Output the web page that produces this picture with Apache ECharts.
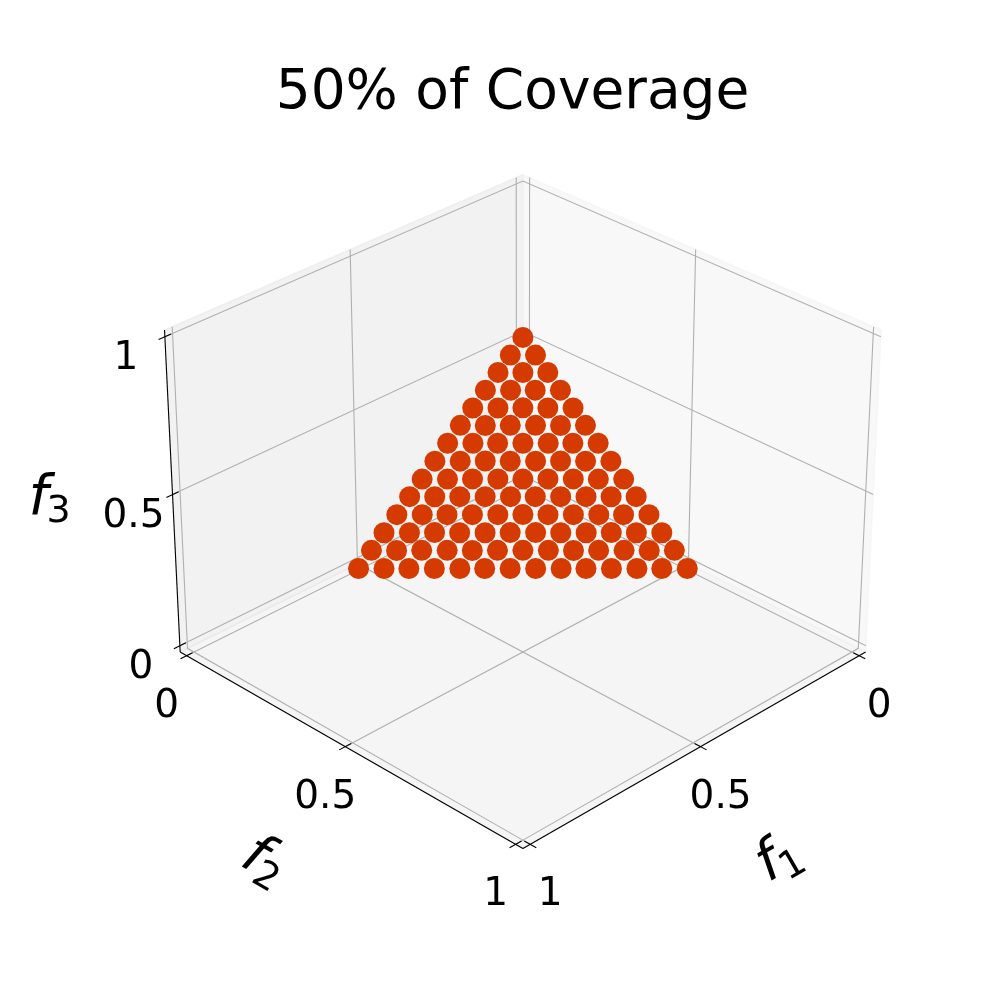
<!DOCTYPE html>
<html><head><meta charset="utf-8">
<script src="https://cdn.jsdelivr.net/npm/echarts@6/dist/echarts.min.js"></script>
<style>html,body{margin:0;padding:0;background:#fff}#chart{width:1000px;height:1000px}</style>
</head><body><div id="chart"></div>
<script>
// ---------------- data ----------------
const titleText = '50% of Coverage';
const tickValues = [0, 0.5, 1];
const tickLabels = ['0', '0.5', '1'];
const axisNames = ['f', 'f', 'f'];
const axisSubs = ['1', '2', '3'];
// lattice levels (f1 / f2 values along a row, f3 value of each row)
const f12Levels = [0.000, 0.040, 0.079, 0.119, 0.159, 0.198, 0.238, 0.278, 0.318, 0.357, 0.397, 0.437, 0.476, 0.516];
const f3Levels  = [0.500, 0.460, 0.421, 0.381, 0.341, 0.302, 0.262, 0.222, 0.182, 0.143, 0.103, 0.063, 0.024, -0.016];
const pointColor = '#d53a00';

// ---------------- 3D projection (matplotlib-like view, elev 30, azim 45) ----------------
const D = 1 / 48, LO = -D, HI = 1 + D;
const deg = Math.PI / 180, ELEV = 30 * deg, AZIM = 45 * deg, DIST = 10;
const a0 = [4, 4, 3], n0 = Math.hypot(...a0);
const ASPECT = a0.map(v => v * 1.8294640721620434 / n0);
const dot = (p, q) => p[0]*q[0] + p[1]*q[1] + p[2]*q[2];
const cross = (p, q) => [p[1]*q[2]-p[2]*q[1], p[2]*q[0]-p[0]*q[2], p[0]*q[1]-p[1]*q[0]];
const unit = p => { const n = Math.hypot(...p); return p.map(v => v / n); };
const Wv = [Math.cos(ELEV)*Math.cos(AZIM), Math.cos(ELEV)*Math.sin(AZIM), Math.sin(ELEV)];
const EYE = ASPECT.map((v, i) => v / 2 + DIST * Wv[i]);
const Uv = unit(cross([0, 0, 1], Wv));
const Vv = cross(Wv, Uv);
const VX = [-0.095, 0.09], VY = [-0.095, 0.09];
const BOX = { x0: 127.5, x1: 897.5, y0: 120, y1: 890 };
function view(f) {
  const d = [f[0]*ASPECT[0]-EYE[0], f[1]*ASPECT[1]-EYE[1], f[2]*ASPECT[2]-EYE[2]];
  return [dot(d, Uv), dot(d, Vv), dot(d, Wv)];
}
function project(f) {
  const v = view(f);
  const sx = v[0] / -v[2], sy = v[1] / -v[2];
  return [BOX.x0 + (sx - VX[0]) / (VX[1] - VX[0]) * (BOX.x1 - BOX.x0),
          BOX.y1 - (sy - VY[0]) / (VY[1] - VY[0]) * (BOX.y1 - BOX.y0)];
}

// ---------------- build points ----------------
const pts = [];
for (let k = 0; k < f3Levels.length; k++) {
  for (let j = 0; j <= k; j++) {
    pts.push([f12Levels[k - j], f12Levels[j], f3Levels[k]]);
  }
}
pts.sort((p, q) => view(p)[2] - view(q)[2]); // farthest first
const scatterData = pts.map(p => project(p));

// ---------------- frame geometry ----------------
const panes = [
  { pts: [[LO,LO,LO],[HI,LO,LO],[HI,HI,LO],[LO,HI,LO]], color: 'rgba(236,236,236,0.5)' }, // floor
  { pts: [[LO,LO,LO],[HI,LO,LO],[HI,LO,HI],[LO,LO,HI]], color: 'rgba(230,230,230,0.5)' }, // f2 = 0 wall
  { pts: [[LO,LO,LO],[LO,HI,LO],[LO,HI,HI],[LO,LO,HI]], color: 'rgba(242,242,242,0.5)' }  // f1 = 0 wall
];
function gridLine(ax, t) {
  if (ax === 0) return [[t,HI,LO],[t,LO,LO],[t,LO,HI]];
  if (ax === 1) return [[HI,t,LO],[LO,t,LO],[LO,t,HI]];
  return [[HI,LO,t],[LO,LO,t],[LO,HI,t]];
}
function axisLine(ax) {
  if (ax === 0) return [[LO,HI,LO],[HI,HI,LO]];
  if (ax === 1) return [[HI,LO,LO],[HI,HI,LO]];
  return [[HI,LO,LO],[HI,LO,HI]];
}
const TOUT = 0.017, TIN = 0.017;
function tickLine(ax, t) {
  if (ax === 0) return [[t,HI+TOUT,LO],[t,HI-TIN,LO]];
  if (ax === 1) return [[HI+TOUT,t,LO],[HI-TIN,t,LO]];
  return [[HI+TOUT,LO,t],[HI-TIN,LO,t]];
}
function tickBase(ax, t) {
  if (ax === 0) return [t, HI, LO];
  if (ax === 1) return [HI, t, LO];
  return [HI, LO, t];
}
const tickLabelOffset = [[20, 51], [-20, 51], [-39, 22]];
const axisNameOffset = [[77, 108], [-78, 112], [-122, 0]];
const axisNameRot = [30 * deg, -30 * deg, 0];

const gridData = [], tickData = [], labelData = [];
for (let ax = 0; ax < 3; ax++) {
  tickValues.forEach((t, i) => { gridData.push([ax, t]); tickData.push([ax, t]); labelData.push([ax, t, i]); });
}

const chart = echarts.init(document.getElementById('chart'), null, { renderer: 'canvas' });
const toPx = (api, f) => api.coord(project(f));

chart.setOption({
  animation: false,
  backgroundColor: '#ffffff',
  grid: { left: 0, top: 0, width: 1000, height: 1000, containLabel: false },
  xAxis: { type: 'value', min: 0, max: 1000, show: false },
  yAxis: { type: 'value', min: 0, max: 1000, inverse: true, show: false },
  graphic: [{
    type: 'text', x: 512.5, y: 94, z: 10,
    style: { text: titleText, font: '55px "DejaVu Sans"', fill: '#000', align: 'center', verticalAlign: 'middle' }
  }],
  series: [
    { // panes
      type: 'custom', z: 1, clip: false, silent: true,
      data: panes.map((p, i) => [i]),
      renderItem: (params, api) => {
        const p = panes[api.value(0)];
        return { type: 'polygon', shape: { points: p.pts.map(f => toPx(api, f)) },
          style: { fill: p.color, stroke: p.color, lineWidth: 1.4 } };
      }
    },
    { // grid lines
      type: 'custom', z: 2, clip: false, silent: true,
      data: gridData,
      renderItem: (params, api) => ({ type: 'polyline',
        shape: { points: gridLine(api.value(0), api.value(1)).map(f => toPx(api, f)) },
        style: { stroke: '#b0b0b0', lineWidth: 1.1, fill: null } })
    },
    { // axis lines
      type: 'custom', z: 3, clip: false, silent: true,
      data: [[0], [1], [2]],
      renderItem: (params, api) => ({ type: 'polyline',
        shape: { points: axisLine(api.value(0)).map(f => toPx(api, f)) },
        style: { stroke: '#000', lineWidth: 1.1, fill: null } })
    },
    { // ticks
      type: 'custom', z: 3, clip: false, silent: true,
      data: tickData,
      renderItem: (params, api) => ({ type: 'polyline',
        shape: { points: tickLine(api.value(0), api.value(1)).map(f => toPx(api, f)) },
        style: { stroke: '#000', lineWidth: 1.1, fill: null } })
    },
    { // tick labels
      type: 'custom', z: 6, clip: false, silent: true,
      data: labelData,
      renderItem: (params, api) => {
        const ax = api.value(0), t = api.value(1), i = api.value(2);
        const c = toPx(api, tickBase(ax, t));
        const o = tickLabelOffset[ax];
        return { type: 'text', x: c[0] + o[0], y: c[1] + o[1],
          style: { text: tickLabels[i], font: '39px "DejaVu Sans"', fill: '#000', align: 'center', verticalAlign: 'middle' } };
      }
    },
    { // axis names
      type: 'custom', z: 6, clip: false, silent: true,
      data: [[0], [1], [2]],
      renderItem: (params, api) => {
        const ax = api.value(0);
        const c = toPx(api, tickBase(ax, 0.5));
        const o = axisNameOffset[ax];
        return { type: 'group', x: c[0] + o[0], y: c[1] + o[1], rotation: axisNameRot[ax],
          children: [
            { type: 'text', x: -22, y: 5, style: { text: axisNames[ax], font: 'italic 56px "DejaVu Sans"', fill: '#000', align: 'left', verticalAlign: 'middle' } },
            { type: 'text', x: -4, y: 18, style: { text: axisSubs[ax], font: '38px "DejaVu Sans"', fill: '#000', align: 'left', verticalAlign: 'middle' } }
          ] };
      }
    },
    { // points
      type: 'scatter', z: 5, silent: true,
      symbol: 'circle', symbolSize: 21,
      itemStyle: { color: pointColor, opacity: 1 },
      data: scatterData
    }
  ]
});
</script></body></html>
